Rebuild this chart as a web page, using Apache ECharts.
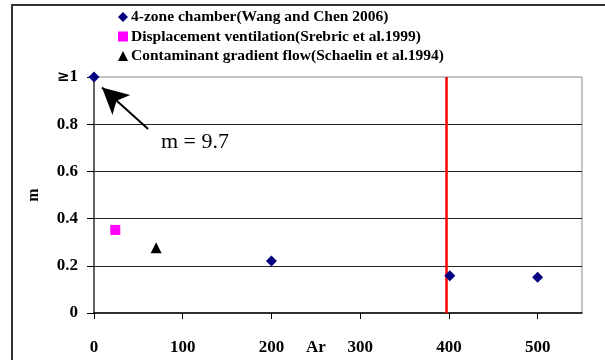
<!DOCTYPE html>
<html><head><meta charset="utf-8">
<script src="https://cdn.jsdelivr.net/npm/echarts@6/dist/echarts.min.js"></script>
<style>html,body{margin:0;padding:0;background:#fff}#c{width:605px;height:360px}</style>
</head><body><div id="c"></div>
<script>
var seriesNames = ['4-zone chamber(Wang and Chen 2006)', 'Displacement ventilation(Srebric et al.1999)', 'Contaminant gradient flow(Schaelin et al.1994)'];
var wangChen = [[0, 1], [200, 0.22], [401, 0.158], [500, 0.152]];
var srebric = [[24, 0.352]];
var schaelin = [[70, 0.277]];
var redLineX = 397;
var arrowFrom = [61, 0.78];
var arrowTo = [9, 0.955];
var xTicks = [0, 100, 200, 300, 400, 500];
var yTicks = [0, 0.2, 0.4, 0.6, 0.8, 1];

var serif = '"Liberation Serif", "Times New Roman", serif';
var chart = echarts.init(document.getElementById('c'), null, {renderer: 'canvas'});
chart.setOption({
  animation: false,
  grid: {left: 94, right: 23, top: 77, bottom: 47, show: true, borderColor: '#888', borderWidth: 1},
  legend: {
    orient: 'vertical', left: 113, top: 4, itemGap: 3.5, itemWidth: 10, itemHeight: 10,
    textStyle: {fontFamily: serif, fontWeight: 'bold', fontSize: 15.5, color: '#000', lineHeight: 15, padding: [0,0,0,-2]},
    data: [
      {name: seriesNames[0], icon: 'diamond', itemStyle: {color: '#000080', opacity: 1}},
      {name: seriesNames[1], icon: 'rect', itemStyle: {color: '#FF00FF', opacity: 1}},
      {name: seriesNames[2], icon: 'triangle', itemStyle: {color: '#000', opacity: 1}}
    ]
  },
  xAxis: {
    type: 'value', min: 0, max: 550, interval: 100,
    axisLine: {show: true, lineStyle: {color: '#000', width: 1.5}},
    axisTick: {show: true, inside: false, length: 6, lineStyle: {color: '#000'}},
    axisLabel: {margin: 26, fontFamily: serif, fontWeight: 'bold', fontSize: 17, color: '#000',
      showMaxLabel: false,
      formatter: function(v){ return xTicks.indexOf(v) >= 0 ? String(v) : ''; }},
    splitLine: {show: false}
  },
  yAxis: {
    type: 'value', min: 0, max: 1, interval: 0.2,
    name: 'm', nameLocation: 'middle', nameGap: 52, nameRotate: 90,
    nameTextStyle: {fontFamily: serif, fontWeight: 'bold', fontSize: 16, color: '#000'},
    axisLine: {show: true, lineStyle: {color: '#444', width: 1.5}},
    axisTick: {show: true, inside: false, length: 7, lineStyle: {color: '#000'}},
    axisLabel: {margin: 16, fontFamily: serif, fontWeight: 'bold', fontSize: 17, color: '#000',
      formatter: function(v){ return v >= 1 ? '{ge|\u2265}1' : (v === 0 ? '0' : v.toFixed(1)); },
      rich: {ge: {fontFamily: '"DejaVu Serif", serif', fontWeight: 'bold', fontSize: 15, color: '#000'}}},
    splitLine: {show: true, showMinLine: false, showMaxLine: false, lineStyle: {color: '#222', width: 1}}
  },
  series: [
    {name: seriesNames[0], type: 'scatter', symbol: 'diamond', symbolSize: 11, itemStyle: {color: '#000080', opacity: 1}, data: wangChen, z: 5,
      markLine: {
        silent: true, animation: false,
        data: [
          [{coord: [redLineX, 0], symbol: 'none'}, {coord: [redLineX, 1], symbol: 'none'}]
        ],
        lineStyle: {color: '#FF0000', width: 2.5, type: 'solid', opacity: 1},
        label: {show: false}
      }
    },
    {name: seriesNames[1], type: 'scatter', symbol: 'rect', symbolSize: 10, itemStyle: {color: '#FF00FF', opacity: 1}, data: srebric, z: 5},
    {name: seriesNames[2], type: 'scatter', symbol: 'triangle', symbolSize: 11, itemStyle: {color: '#000', opacity: 1}, data: schaelin, z: 5,
      markLine: {
        silent: true, animation: false,
        symbol: ['none', 'arrow'], symbolSize: [20, 26],
        data: [[{coord: arrowFrom}, {coord: arrowTo}]],
        lineStyle: {color: '#000', width: 2, type: 'solid', opacity: 1},
        label: {show: false}
      }
    }
  ],
  graphic: [
    {type: 'rect', shape: {x: 12, y: 5, width: 620, height: 400}, style: {fill: 'none', stroke: '#333', lineWidth: 2}, z: 100},
    {type: 'text', left: 161, top: 131, style: {text: 'm = 9.7', font: '22px ' + serif, fill: '#000'}},
    {type: 'text', left: 306, top: 339, style: {text: 'Ar', font: 'bold 17px ' + serif, fill: '#000'}}
  ]
});
</script>
</body></html>
